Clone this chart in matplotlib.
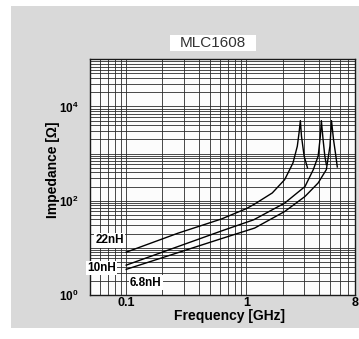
import matplotlib
matplotlib.use("Agg")
import matplotlib.pyplot as plt
from matplotlib.patches import Rectangle
from matplotlib.ticker import LogLocator, NullFormatter

plt.rcParams["font.family"] = ["Liberation Sans", "DejaVu Sans"]
plt.rcParams["mathtext.fontset"] = "custom"
plt.rcParams["mathtext.rm"] = "Liberation Sans"
plt.rcParams["mathtext.bf"] = "Liberation Sans:bold"

# Impedance curves of the MLC1608 chip inductors (frequency in GHz, impedance in ohm)
freq_22nh = [0.1, 0.27, 0.62, 1.0, 1.17, 1.64, 2.08, 2.29, 2.44, 2.65, 2.74, 2.81, 2.87, 3.02, 3.22]
z_22nh = [8.1, 20.5, 41, 68, 85, 146, 280, 457, 635, 1430, 2760, 5000, 2340, 880, 500]

freq_10nh = [0.1, 0.61, 1.15, 2.08, 3.07, 3.6, 3.95, 4.12, 4.2, 4.34, 4.49, 4.62]
z_10nh = [4.3, 22.5, 39.4, 89, 200, 457, 880, 2340, 5000, 1990, 880, 583]

freq_6n8 = [0.1, 0.61, 1.17, 2.08, 3.07, 3.95, 4.62, 4.95, 5.1, 5.3, 5.5, 5.7]
z_6n8 = [3.5, 15.5, 26.3, 59, 123, 238, 457, 1430, 5000, 1990, 1030, 520]

curve_labels = ["22nH", "10nH", "6.8nH"]
x_ticks = [0.1, 1, 8]
x_ticklabels = ["0.1", "1", "8"]
y_ticks = [1, 100, 10000]
y_ticklabels = [r"$\mathbf{10^{0}}$", r"$\mathbf{10^{2}}$", r"$\mathbf{10^{4}}$"]

W, H = 359, 339
fig = plt.figure(figsize=(W / 100, H / 100), dpi=100)
fig.patch.set_facecolor("white")

# grey panel behind the chart
fig.patches.append(Rectangle((11 / W, 11 / H), 348 / W, 322 / H, transform=fig.transFigure,
                             facecolor="#d9d9d9", edgecolor="none", zorder=-10))
# white title plate
fig.patches.append(Rectangle((170 / W, 1 - 51 / H), 86 / W, 16 / H, transform=fig.transFigure,
                             facecolor="white", edgecolor="none", zorder=-5))
fig.text(213 / W, 1 - 43 / H, "MLC1608", ha="center", va="center", fontsize=11, color="#333333")

ax = fig.add_axes([90 / W, 44 / H, 265 / W, 235.7 / H])
ax.set_facecolor("#fcfcfc")
ax.set_xscale("log")
ax.set_yscale("log")
ax.set_xlim(0.05, 8)
ax.set_ylim(1, 1e5)

ax.set_xticks(x_ticks)
ax.set_xticklabels(x_ticklabels, fontsize=9, fontweight="bold")
ax.set_yticks(y_ticks)
ax.set_yticklabels(y_ticklabels, fontsize=8.5)
ax.xaxis.set_minor_locator(LogLocator(base=10, subs=range(1, 10), numticks=30))
ax.yaxis.set_minor_locator(LogLocator(base=10, subs=range(1, 10), numticks=30))
ax.xaxis.set_minor_formatter(NullFormatter())
ax.yaxis.set_minor_formatter(NullFormatter())
ax.tick_params(which="both", length=0)
ax.tick_params(axis="x", pad=1.5)
ax.tick_params(axis="y", pad=8)

ax.grid(True, which="both", color="#2a2a2a", linewidth=0.6)
ax.set_axisbelow(True)
for sp in ax.spines.values():
    sp.set_color("#1a1a1a")
    sp.set_linewidth(1.0)

series = [(freq_22nh, z_22nh), (freq_10nh, z_10nh), (freq_6n8, z_6n8)]
offsets = [(-12, 8.5), (-18, -2), (14, -9.5)]
for (f, z), name, off in zip(series, curve_labels, offsets):
    ax.plot(f, z, color="black", linewidth=1.0, zorder=3)
    ax.annotate(name, xy=(f[0], z[0]), xytext=off, textcoords="offset points",
                ha="center", va="center", fontsize=8.5, fontweight="bold", zorder=4,
                bbox=dict(boxstyle="square,pad=0.1", facecolor="white", edgecolor="none"))

fig.text(53 / W, 1 - 169.5 / H, "Impedance [Ω]", rotation=90, ha="center", va="center",
         fontsize=10, fontweight="bold")
fig.text(230 / W, 1 - 316 / H, "Frequency [GHz]", ha="center", va="center",
         fontsize=10, fontweight="bold")

fig.savefig("out.png", dpi=100)
